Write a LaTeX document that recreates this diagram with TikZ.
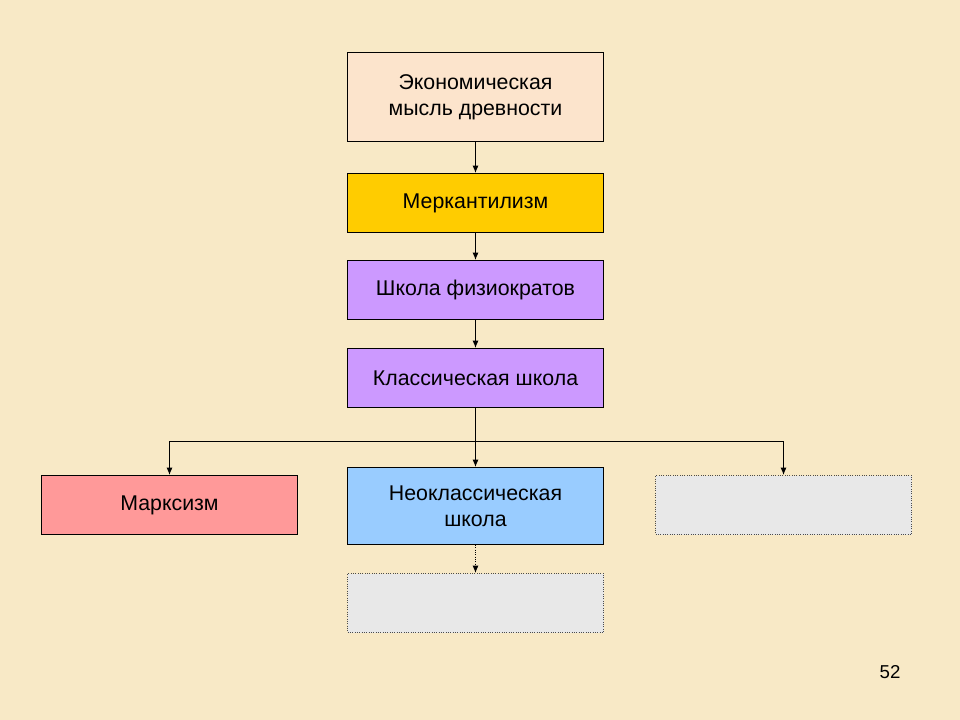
\documentclass[tikz,border=0pt]{standalone}
\usepackage{fontspec}
\setmainfont{Liberation Sans}
\usetikzlibrary {positioning,
                 arrows.meta}

\definecolor{papier}{RGB}{248,233,198}
\definecolor{antik}{RGB}{252,228,204}
\definecolor{gold}{RGB}{255,204,0}
\definecolor{lila}{RGB}{204,153,255}
\definecolor{rosa}{RGB}{255,153,153}
\definecolor{blau}{RGB}{153,204,255}
\definecolor{leer}{RGB}{232,232,232}

\begin{document}
\begin{tikzpicture}[x=0.75pt, y=-0.75pt,
    box/.style={draw, line width=0.75pt, minimum width=192pt, minimum height=44.25pt,
                align=center, font=\fontsize{16}{19.5}\selectfont, inner sep=0pt},
    leerbox/.style={box, draw=black!70, fill=leer, densely dotted},
    pfeil/.style={line width=0.75pt, -{Latex[length=5.5pt, width=4.5pt]}}]
    \fill[papier] (0,0) rectangle (960,720);
    \useasboundingbox (0,0) rectangle (960,720);

    % Kette
    \node[box, fill=antik, minimum height=66.75pt] (a) at (475.5,97) {Экономическая\\мысль древности};
    \node[box, fill=gold, below=23.25pt of a] (b) {Меркантилизм};
    \node[box, fill=lila, below=20.25pt of b] (c) {Школа физиократов};
    \node[box, fill=lila, below=21pt of c] (d) {Классическая школа};

    % Verzweigung
    \node[box, fill=blau, minimum height=57.75pt, below=44.25pt of d] (neo) {Неоклассическая\\школа};
    \node[box, fill=rosa, left=36.75pt of neo, yshift=0.75pt] (marx) {Марксизм};
    \node[leerbox, right=38.25pt of neo, yshift=0.75pt] (leer1) {};
    \node[leerbox, below=21pt of neo] (leer2) {};

    \node (seite) at (890,672) {\fontsize{14}{16}\selectfont 52};

    % Pfeile
    \draw[pfeil] (a) -- (b);
    \draw[pfeil] (b) -- (c);
    \draw[pfeil] (c) -- (d);
    \draw[pfeil] (d) -- (neo);
    \draw[pfeil] (d.south) -- ++(0,33) -| (marx.north);
    \draw[pfeil] (d.south) -- ++(0,33) -| (leer1.north);
    \draw[pfeil, densely dotted] (neo) -- (leer2);

\end{tikzpicture}
\end{document}
